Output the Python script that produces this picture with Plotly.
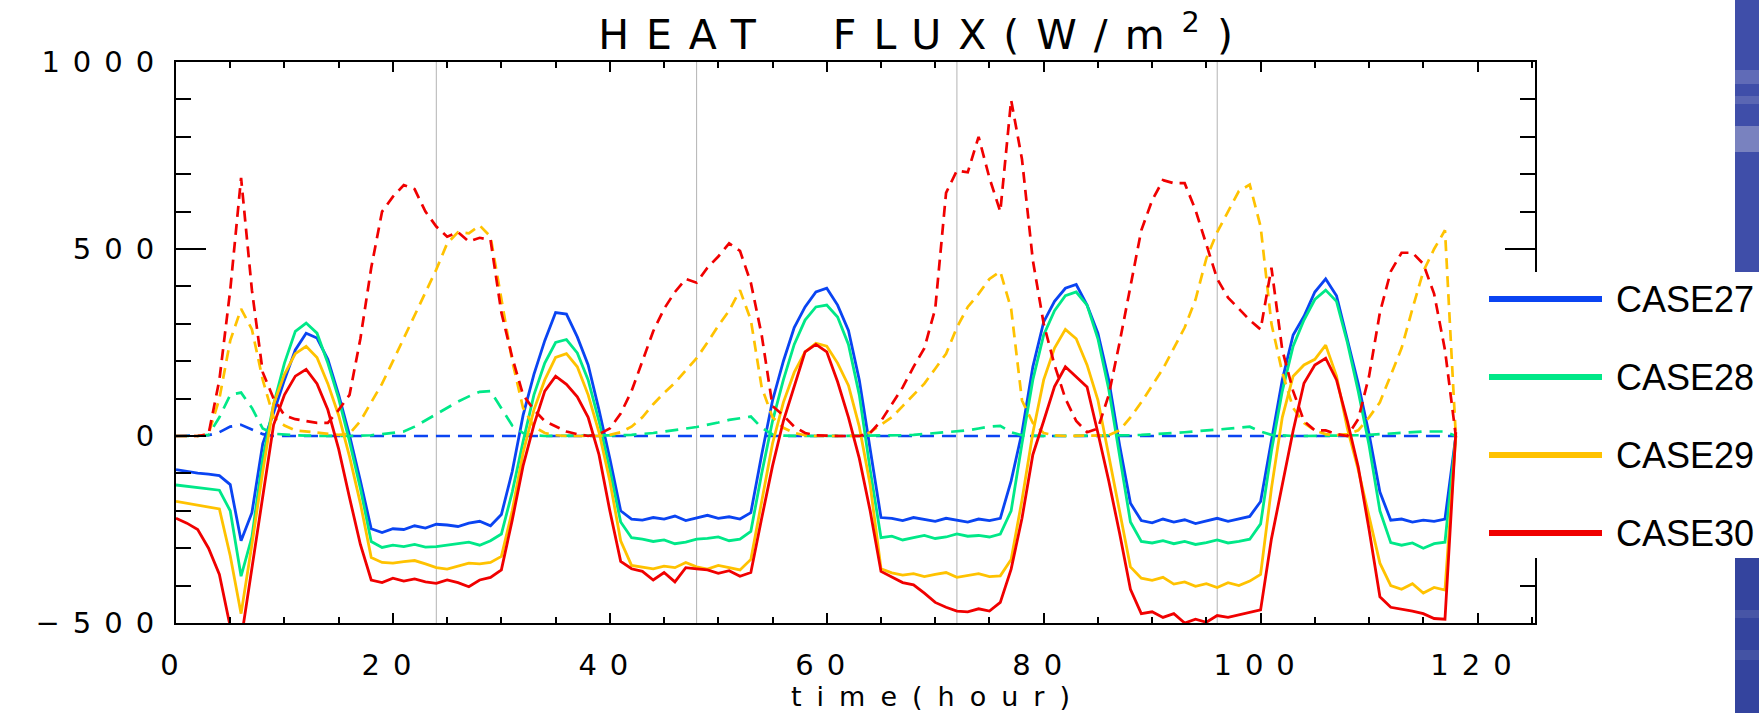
import plotly.graph_objects as go

# ---------------------------------------------------------------------------
# Hourly heat flux (W/m^2) for four model cases; solid and dashed components
# ---------------------------------------------------------------------------
hours = list(range(119))

case27_solid = [
    -90, -95, -99, -102, -106, -130, -280, -205, -20, 62,
    150, 230, 275, 262, 205, 110, 2, -120, -248, -258,
    -248, -250, -240, -246, -236, -238, -242, -233, -228, -240,
    -210, -95, 55, 165, 255, 330, 326, 265, 190, 70,
    -60, -200, -222, -225, -218, -222, -214, -226, -218, -212,
    -220, -216, -222, -205, -50, 95, 200, 290, 345, 385,
    395, 350, 282, 150, -35, -218, -220, -226, -218, -222,
    -228, -220, -225, -230, -222, -226, -220, -120, 10, 185,
    305, 360, 395, 405, 350, 275, 150, -25, -180, -226,
    -232, -222, -230, -224, -234, -226, -220, -228, -222, -215,
    -175, -10, 150, 270, 320, 385, 420, 375, 255, 140,
    5, -150, -225, -222, -230, -225, -228, -222, 0,
]
case28_solid = [
    -131, -134, -138, -141, -145, -200, -375, -270, -60, 85,
    195, 280, 302, 275, 195, 100, -15, -140, -282, -298,
    -292, -296, -290, -297, -296, -292, -288, -284, -292, -280,
    -262, -150, -15, 110, 195, 250, 258, 222, 150, 40,
    -90, -230, -272, -276, -282, -278, -288, -284, -276, -274,
    -270, -280, -276, -255, -100, 40, 150, 245, 310, 345,
    350, 318, 245, 110, -90, -272, -268, -278, -272, -266,
    -274, -270, -262, -268, -266, -270, -262, -200, -20, 150,
    270, 335, 375, 385, 350, 260, 125, -55, -230, -282,
    -286, -280, -288, -282, -290, -285, -278, -286, -282, -276,
    -235, -40, 120, 240, 310, 365, 390, 360, 250, 120,
    -25, -200, -285, -292, -286, -300, -288, -284, 0,
]
case29_solid = [
    -175, -180, -184, -188, -195, -320, -475, -290, -95, 85,
    165, 220, 240, 210, 140, 55, -55, -180, -325, -338,
    -340, -336, -333, -342, -352, -356, -348, -340, -342, -338,
    -322, -200, -45, 70, 150, 210, 220, 185, 110, 10,
    -120, -280, -346, -350, -355, -348, -352, -338, -350, -356,
    -346, -352, -358, -330, -170, -20, 90, 170, 225, 248,
    240, 195, 135, 25, -130, -355, -366, -372, -368, -376,
    -370, -365, -378, -372, -368, -376, -374, -330, -171, 8,
    150, 235, 285, 260, 190, 96, -50, -200, -350, -380,
    -386, -378, -396, -390, -402, -395, -405, -392, -400, -388,
    -370, -140, 50, 160, 190, 205, 243, 160, 20, -90,
    -216, -340, -400, -410, -395, -420, -405, -412, 0,
]
case30_solid = [
    -220, -233, -250, -300, -370, -510, -545, -350, -160, 30,
    110, 160, 178, 140, 70, -35, -165, -290, -385, -392,
    -380, -388, -382, -390, -394, -385, -392, -403, -385, -378,
    -358, -225, -80, 30, 120, 160, 138, 105, 50, -50,
    -200, -335, -355, -362, -385, -365, -390, -352, -355, -358,
    -367, -360, -375, -365, -220, -80, 40, 135, 225, 245,
    225, 145, 50, -60, -200, -362, -378, -392, -398, -420,
    -445, -458, -468, -470, -462, -468, -445, -356, -220, -50,
    40, 132, 185, 158, 131, 8, -120, -260, -410, -475,
    -470, -485, -475, -500, -490, -498, -480, -485, -478, -470,
    -465, -275, -126, 14, 141, 190, 208, 150, 40, -82,
    -250, -430, -458, -462, -468, -475, -488, -490, 10,
]

case27_dash = [
    0, 0, 0, 2, 10, 25, 30, 18, 5, 0,
    0, 0, 0, 0, 0, 0, 0, 0, 0, 0,
    0, 0, 0, 0, 0, 0, 0, 0, 0, 0,
    0, 0, 0, 0, 0, 0, 0, 0, 0, 0,
    0, 0, 0, 0, 0, 0, 0, 0, 0, 0,
    0, 0, 0, 0, 0, 0, 0, 0, 0, 0,
    0, 0, 0, 0, 0, 0, 0, 0, 0, 0,
    0, 0, 0, 0, 0, 0, 0, 0, 0, 0,
    0, 0, 0, 0, 0, 0, 0, 0, 0, 0,
    0, 0, 0, 0, 0, 0, 0, 0, 0, 0,
    0, 0, 0, 0, 0, 0, 0, 0, 0, 0,
    0, 0, 0, 0, 0, 0, 0, 0, 0,
]
case28_dash = [
    0, 0, 0, 3, 50, 110, 116, 75, 20, 6,
    3, 2, 1, 0, 0, 0, 0, 1, 2, 5,
    8, 12, 25, 42, 60, 75, 92, 106, 118, 120,
    75, 28, 8, 2, 0, 0, 0, 0, 0, 0,
    1, 2, 3, 5, 8, 12, 15, 20, 24, 29,
    36, 43, 48, 52, 22, 4, 1, 0, 0, 0,
    0, 0, 0, 0, 0, 0, 1, 2, 3, 5,
    7, 9, 11, 15, 20, 25, 27, 10, 2, 0,
    0, 0, 0, 0, 0, 0, 0, 1, 2, 3,
    4, 6, 8, 10, 12, 14, 16, 18, 22, 25,
    12, 3, 1, 0, 0, 0, 0, 0, 1, 2,
    3, 5, 6, 8, 10, 12, 12, 12, 0,
]
case29_dash = [
    0, 0, 0, 5, 100, 255, 340, 285, 150, 50,
    28, 15, 12, 8, 5, 3, 6, 40, 90, 140,
    200, 262, 320, 382, 445, 515, 545, 542, 563, 533,
    370, 200, 75, 25, 8, 2, 0, 0, 0, 0,
    3, 10, 25, 50, 85, 115, 142, 175, 208, 250,
    295, 335, 390, 310, 130, 50, 22, 8, 2, 0,
    0, 0, 0, 0, 10, 30, 50, 80, 110, 140,
    180, 220, 290, 345, 380, 420, 440, 340, 95, 35,
    8, 2, 0, 0, 0, 0, 2, 15, 50, 90,
    135, 180, 235, 290, 365, 475, 545, 600, 655, 672,
    560, 300, 170, 75, 35, 15, 5, 2, 5, 15,
    50, 90, 165, 235, 340, 440, 500, 550, 0,
]
case30_dash = [
    0, 0, 0, 5, 150, 390, 690, 390, 170, 100,
    55, 45, 40, 35, 35, 70, 110, 260, 450, 600,
    640, 671, 660, 600, 560, 533, 545, 520, 530, 524,
    330, 210, 110, 70, 40, 25, 12, 5, 0, 5,
    20, 60, 120, 200, 280, 340, 385, 420, 410, 450,
    480, 515, 495, 410, 270, 80, 55, 25, 8, 2,
    0, 0, 0, 0, 8, 40, 85, 130, 185, 235,
    340, 650, 710, 705, 800, 690, 600, 898, 740, 470,
    300, 190, 100, 40, 10, 20, 110, 250, 400, 550,
    630, 684, 676, 676, 604, 510, 420, 370, 340, 310,
    285, 450, 230, 120, 40, 15, 15, 5, 0, 45,
    160, 330, 440, 490, 490, 460, 380, 230, 0,
]

case_names = ["CASE27", "CASE28", "CASE29", "CASE30"]
case_colors = ["#0a44f2", "#00e888", "#ffc200", "#f00000"]
solid_series = [case27_solid, case28_solid, case29_solid, case30_solid]
dashed_series = [case27_dash, case28_dash, case29_dash, case30_dash]
dash_styles = ["14px,8px", "13px,8px", "11px,7px", "11px,7px"]

x_ticks = [0, 20, 40, 60, 80, 100, 120]
y_ticks = [-500, 0, 500, 1000]
y_tick_labels = ["\u2212500", "0", "500", "1000"]
day_marks = [24, 48, 72, 96]

# plot-area geometry in pixels (figure is 1759 x 713)
FIG_W, FIG_H = 1759, 713
LEFT, RIGHT, TOP, BOTTOM = 176, 1535, 62, 623


def px_x(p):
    return (p - LEFT) / (RIGHT - LEFT)


def px_y(p):
    return (BOTTOM - p) / (BOTTOM - TOP)


def tracked(text, spacing):
    """Wrap text in a span with wide letter tracking (plotter-style lettering)."""
    return f'<span style="letter-spacing:{spacing}px">{text}</span>'


fig = go.Figure()

for name, color, solid, dashed, dash in zip(
    case_names, case_colors, solid_series, dashed_series, dash_styles
):
    fig.add_trace(go.Scatter(
        x=hours, y=solid, mode="lines", name=name,
        line=dict(color=color, width=2.8),
    ))
    fig.add_trace(go.Scatter(
        x=hours, y=dashed, mode="lines", name=name + " (dashed)",
        line=dict(color=color, width=2.7, dash=dash),
    ))

axis_font = dict(family="DejaVu Sans", size=29, color="black")
TICK_TRACK = 13

fig.update_xaxes(
    range=[0, 125.3], tickvals=x_ticks,
    ticktext=[tracked(str(v), TICK_TRACK) for v in x_ticks],
    showline=True, linewidth=2, linecolor="black", mirror="allticks",
    ticks="inside", ticklen=10, tickwidth=2, tickcolor="black",
    minor=dict(tick0=0, dtick=5, ticks="inside", ticklen=6, tickwidth=2,
               tickcolor="black", showgrid=False),
    showgrid=False, zeroline=False, tickfont=axis_font,
    ticklabelstandoff=15,
)
fig.update_yaxes(
    range=[-500, 1000], tickvals=y_ticks,
    ticktext=[tracked(t, TICK_TRACK) for t in y_tick_labels],
    showline=True, linewidth=2, linecolor="black", mirror="allticks",
    ticks="inside", ticklen=30, tickwidth=2, tickcolor="black",
    minor=dict(tick0=0, dtick=100, ticks="inside", ticklen=15, tickwidth=2,
               tickcolor="black", showgrid=False),
    showgrid=False, zeroline=False, tickfont=axis_font,
    ticklabelstandoff=1,
)

shapes = []
# thin day separators
for d in day_marks:
    shapes.append(dict(type="line", xref="x", yref="paper", x0=d, x1=d,
                       y0=0, y1=1, layer="below",
                       line=dict(color="#b3b3b3", width=1)))

# white panel behind the legend (covers the right frame)
shapes.append(dict(type="rect", xref="paper", yref="paper",
                   x0=px_x(1478), x1=px_x(1770), y0=px_y(558), y1=px_y(272),
                   fillcolor="white", line=dict(width=0), layer="above"))

# decorative slide border on the far right
for y_top, y_bot, fill in [(-10, 272, "#3f4ea9"), (558, 725, "#34449e")]:
    shapes.append(dict(type="rect", xref="paper", yref="paper",
                       x0=px_x(1735), x1=px_x(1770),
                       y0=px_y(y_bot), y1=px_y(y_top),
                       fillcolor=fill, line=dict(width=0), layer="above"))
for y_top, y_bot, alpha in [(70, 84, 0.22), (96, 104, 0.18), (126, 152, 0.38),
                            (610, 618, 0.12), (650, 660, 0.1)]:
    shapes.append(dict(type="rect", xref="paper", yref="paper",
                       x0=px_x(1735), x1=px_x(1770),
                       y0=px_y(y_bot), y1=px_y(y_top),
                       fillcolor=f"rgba(215,215,230,{alpha})",
                       line=dict(width=0), layer="above"))

# legend samples
legend_rows = [299, 377, 455, 533]
annotations = []
for name, color, row in zip(case_names, case_colors, legend_rows):
    shapes.append(dict(type="line", xref="paper", yref="paper",
                       x0=px_x(1489), x1=px_x(1602),
                       y0=px_y(row), y1=px_y(row),
                       line=dict(color=color, width=6), layer="above"))
    annotations.append(dict(xref="paper", yref="paper", x=px_x(1614),
                            y=px_y(row), text=name, showarrow=False,
                            xanchor="left", yanchor="middle",
                            font=dict(family="Liberation Sans", size=36,
                                      color="black")))

# x-axis label, placed just under the tick labels
annotations.append(dict(xref="paper", yref="paper", x=px_x(938), y=px_y(713),
                        text=tracked("time(hour)", 15), showarrow=False,
                        xanchor="center", yanchor="bottom", borderpad=0,
                        font=dict(family="DejaVu Sans", size=27,
                                  color="black")))

fig.update_layout(
    width=FIG_W, height=FIG_H,
    margin=dict(l=LEFT, r=FIG_W - RIGHT, t=TOP, b=FIG_H - BOTTOM),
    paper_bgcolor="white", plot_bgcolor="white",
    title=dict(text=tracked("HEAT  FLUX(W/m<sup>2</sup>)", 17),
               x=px_x(924), xref="paper", xanchor="center",
               y=1 - 35 / FIG_H, yref="container", yanchor="middle",
               font=dict(family="DejaVu Sans", size=41, color="black")),
    showlegend=False, shapes=shapes, annotations=annotations,
)

fig.write_html("out.html")
